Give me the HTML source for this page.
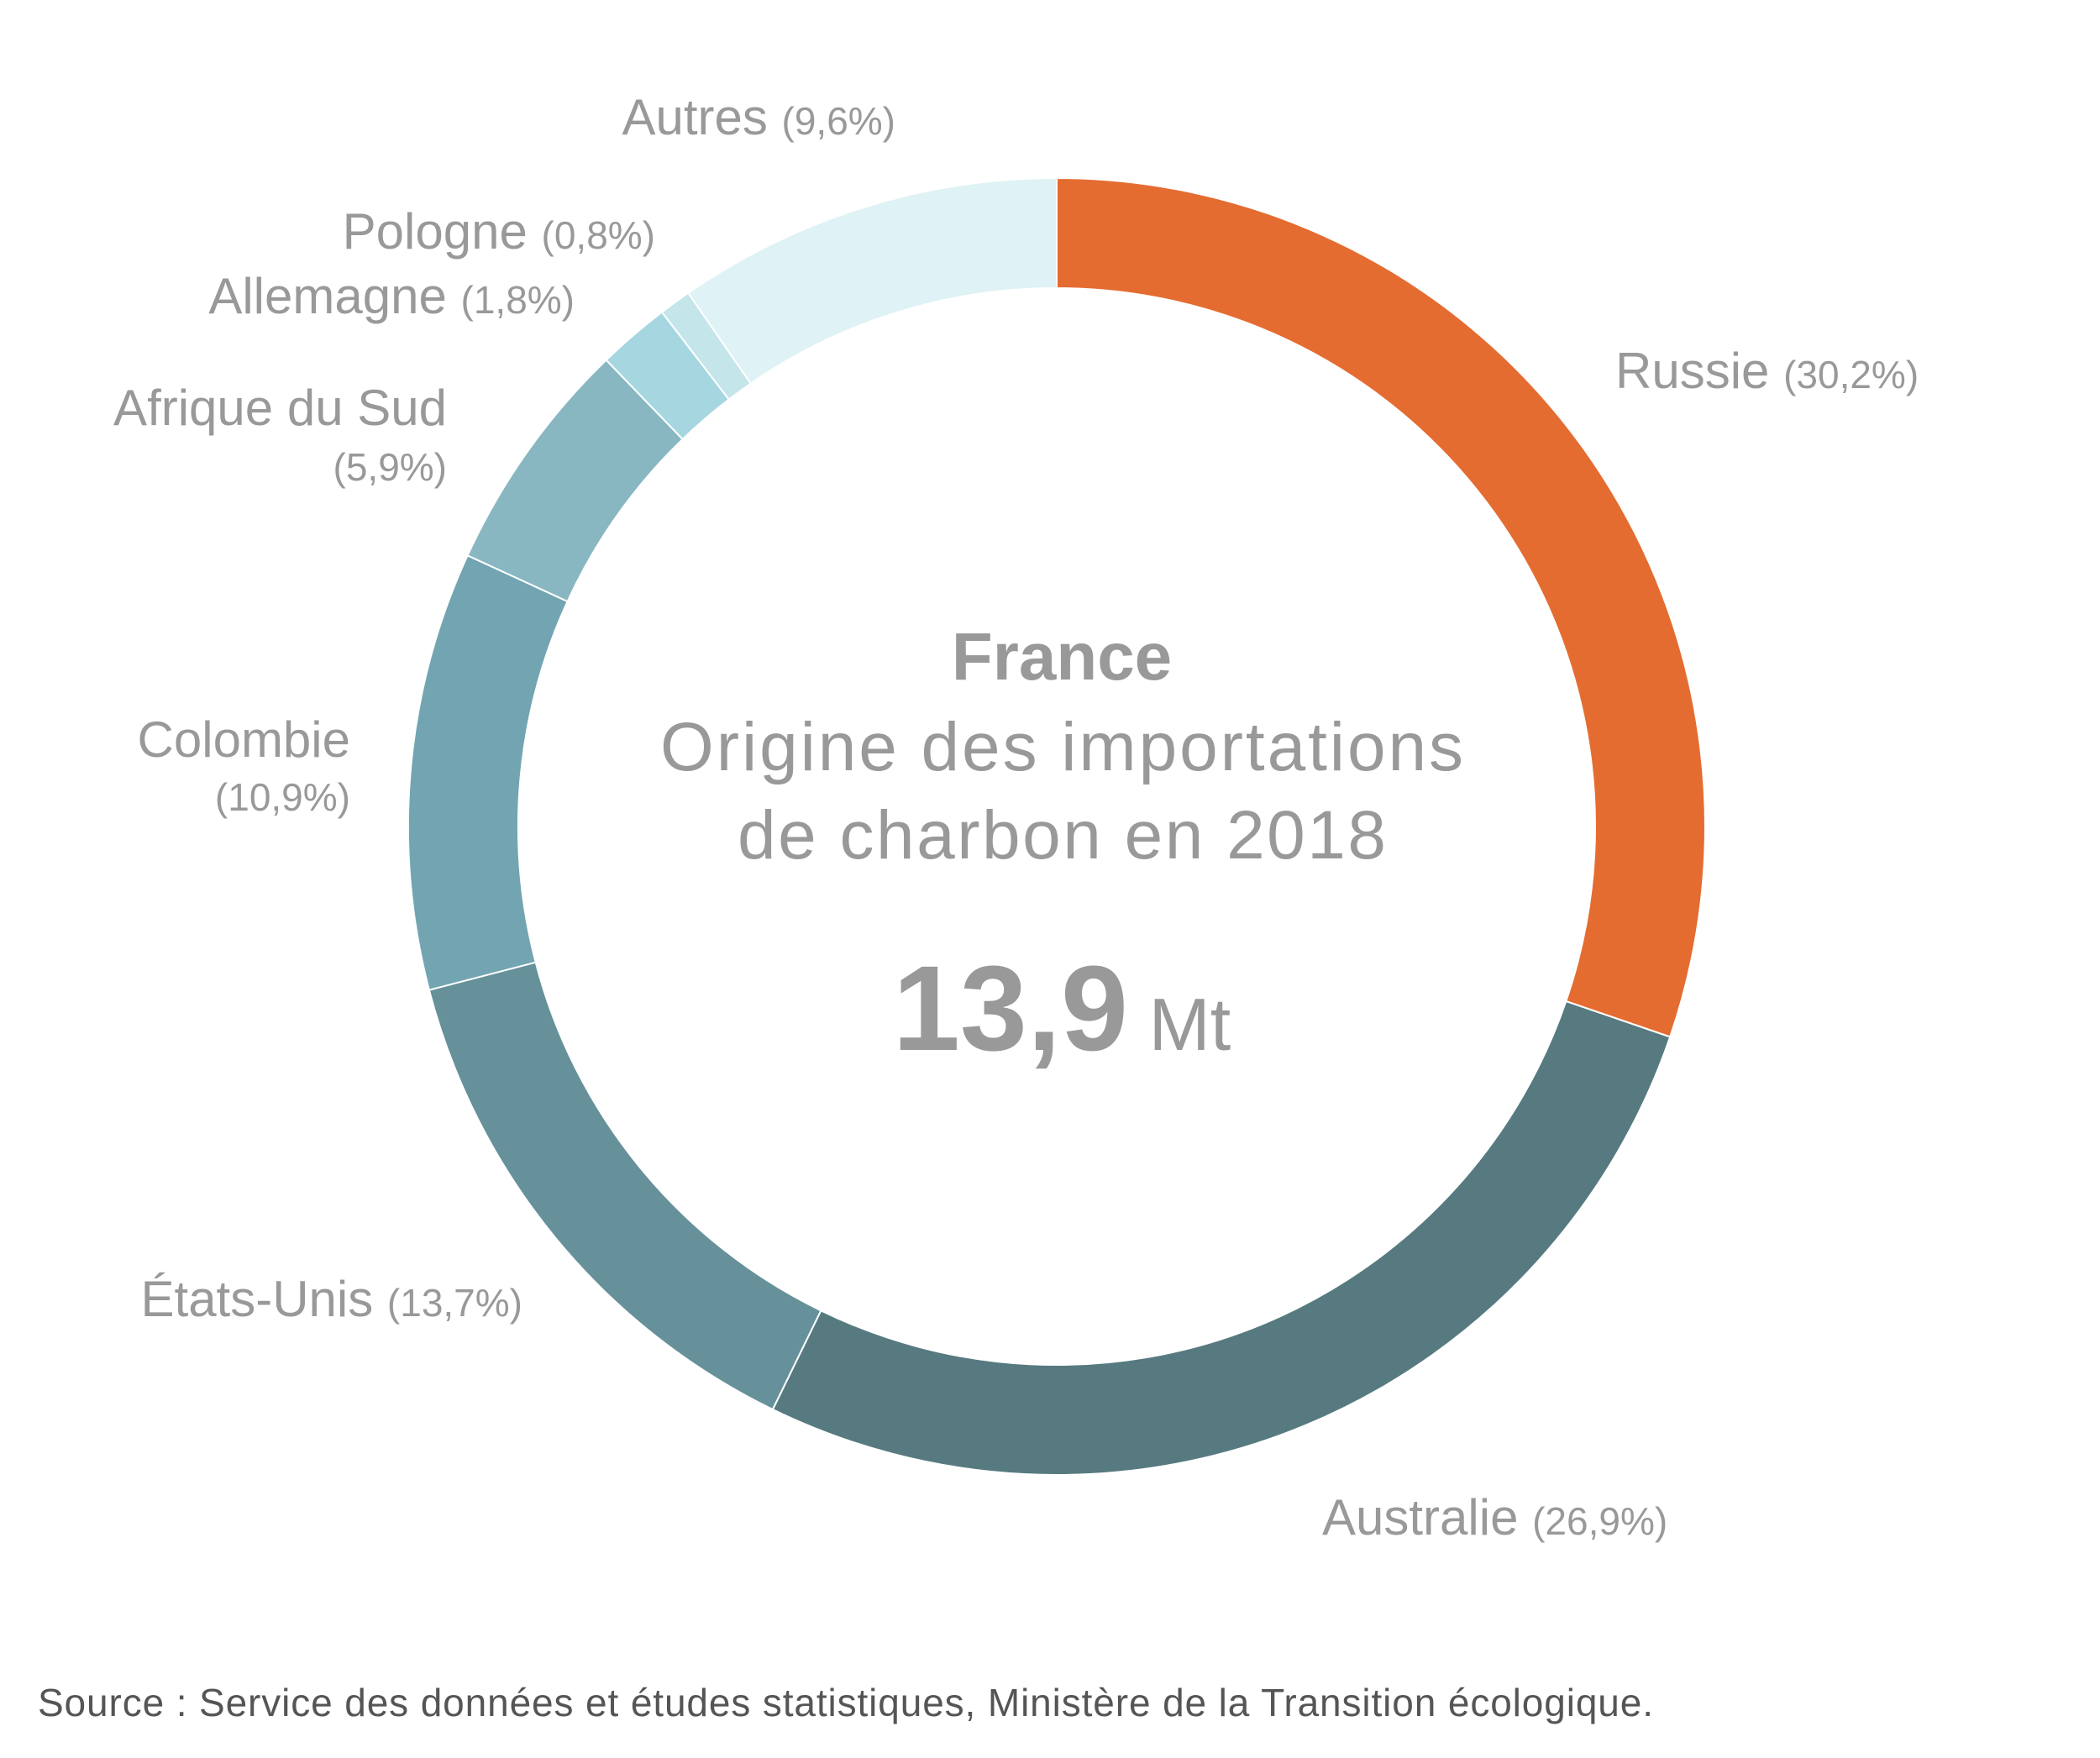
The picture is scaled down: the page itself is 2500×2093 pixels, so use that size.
<!DOCTYPE html>
<html><head><meta charset="utf-8"><style>
html,body{margin:0;padding:0;background:#fff;}
svg{display:block;}
text{font-family:"Liberation Sans",sans-serif;fill:#999;}
</style></head><body>
<svg width="2500" height="2093" viewBox="0 0 2500 2093" xmlns="http://www.w3.org/2000/svg">
<g stroke="#fff" stroke-width="2" transform="translate(-6,-5)">
<path fill="#E46C31" d="M1264,217 A772,772 0 0 1 1994.2,1239.5 L1870.3,1197.0 A641,641 0 0 0 1264,348 Z"/>
<path fill="#567A7F" d="M1994.2,1239.5 A772,772 0 0 1 925.9,1683.0 L983.3,1565.3 A641,641 0 0 0 1870.3,1197.0 Z"/>
<path fill="#66919A" d="M925.9,1683.0 A772,772 0 0 1 516.9,1183.7 L643.7,1150.7 A641,641 0 0 0 983.3,1565.3 Z"/>
<path fill="#72A5B1" d="M516.9,1183.7 A772,772 0 0 1 562.6,666.3 L681.6,721.0 A641,641 0 0 0 643.7,1150.7 Z"/>
<path fill="#88B7C2" d="M562.6,666.3 A772,772 0 0 1 727.7,433.7 L818.7,527.9 A641,641 0 0 0 681.6,721.0 Z"/>
<path fill="#A6D7E1" d="M727.7,433.7 A772,772 0 0 1 794.0,376.6 L873.7,480.5 A641,641 0 0 0 818.7,527.9 Z"/>
<path fill="#C4E5EA" d="M794.0,376.6 A772,772 0 0 1 825.3,353.8 L899.7,461.6 A641,641 0 0 0 873.7,480.5 Z"/>
<path fill="#DFF2F5" d="M825.3,353.8 A772,772 0 0 1 1264,217 L1264,348 A641,641 0 0 0 899.7,461.6 Z"/>
</g>
<g font-size="60">
<text x="1066" y="160" text-anchor="end">Autres <tspan font-size="46">(9,6%)</tspan></text>
<text x="780" y="296" text-anchor="end">Pologne <tspan font-size="46">(0,8%)</tspan></text>
<text x="684" y="373" text-anchor="end">Allemagne <tspan font-size="46">(1,8%)</tspan></text>
<text x="1923" y="462">Russie <tspan font-size="46">(30,2%)</tspan></text>
<text x="532" y="506" text-anchor="end">Afrique du Sud</text>
<text x="532" y="572" text-anchor="end" font-size="46">(5,9%)</text>
<text x="417" y="901" text-anchor="end">Colombie</text>
<text x="417" y="965" text-anchor="end" font-size="46">(10,9%)</text>
<text x="622" y="1567" text-anchor="end">États-Unis <tspan font-size="46">(13,7%)</tspan></text>
<text x="1574" y="1827">Australie <tspan font-size="46">(26,9%)</tspan></text>
</g>
<text x="1264" y="809" text-anchor="middle" font-size="80" font-weight="bold">France</text>
<text x="1264" y="917" text-anchor="middle" font-size="82" textLength="956">Origine des importations</text>
<text x="1264" y="1022" text-anchor="middle" font-size="82" textLength="772">de charbon en 2018</text>
<text x="1264" y="1250" text-anchor="middle"><tspan font-size="144" font-weight="bold">13,9</tspan><tspan font-size="88"> Mt</tspan></text>
<text x="45" y="2043" font-size="46" style="fill:#555" textLength="1923">Source : Service des données et études statistiques, Ministère de la Transition écologique.</text>
</svg>
</body></html>
